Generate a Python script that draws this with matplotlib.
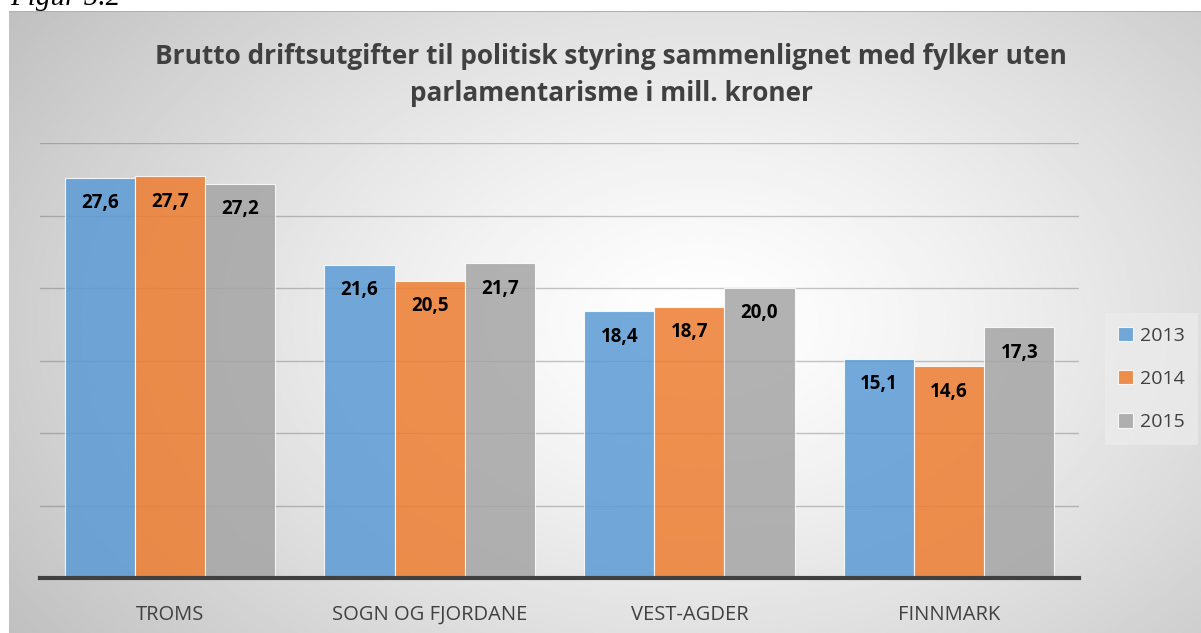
import numpy as np
import matplotlib
matplotlib.use("Agg")
import matplotlib.pyplot as plt

# Data
fylker = ["TROMS", "SOGN OG FJORDANE", "VEST-AGDER", "FINNMARK"]
years = ["2013", "2014", "2015"]
v2013 = [27.6, 21.6, 18.4, 15.1]
v2014 = [27.7, 20.5, 18.7, 14.6]
v2015 = [27.2, 21.7, 20.0, 17.3]
series = [v2013, v2014, v2015]
colors = ["#5b9bd5", "#ed7d31", "#a5a5a5"]

title = ("Brutto driftsutgifter til politisk styring sammenlignet med fylker uten\n"
         "parlamentarisme i mill. kroner")

plt.rcParams["font.family"] = ["Open Sans", "DejaVu Sans"]

W, H = 1201, 633
fig = plt.figure(figsize=(W / 100, H / 100), dpi=100)
fig.patch.set_facecolor("white")

# chart area with a radial gradient background
bg = fig.add_axes([9 / W, 0, 1 - 9 / W, 1 - 11 / H])
bg.set_axis_off()
yy, xx = np.mgrid[0:1:300j, 0:1:600j]
r = np.sqrt(((xx - 0.58) / 0.75) ** 2 + ((yy - 0.5) / 0.95) ** 2)
shade = 1.0 - 0.27 * np.clip(r, 0, 1) ** 1.3
bg.imshow(shade, cmap="gray", vmin=0, vmax=1, aspect="auto",
          extent=[0, 1, 0, 1], origin="lower", zorder=0)
bg.set_xlim(0, 1)
bg.set_ylim(0, 1)
bg.plot([0, 1], [1, 1], color="#b0b0b0", lw=1.5, zorder=1)

ax = fig.add_axes([40 / W, 55 / H, (1079 - 40) / W, (578 - 143) / H])
ax.patch.set_alpha(0)

x = np.arange(len(fylker))
bw = 0.27
for i, (vals, c, yr) in enumerate(zip(series, colors, years)):
    bars = ax.bar(x + (i - 1) * bw, vals, bw, color=c, alpha=0.85,
                  edgecolor="white", linewidth=0.8, label=yr, zorder=3)
    for b, v in zip(bars, vals):
        ax.text(b.get_x() + b.get_width() / 2, v - 1.75, f"{v:.1f}".replace(".", ","),
                ha="center", va="center", fontsize=13.5, fontweight="bold",
                color="black", zorder=4)

ax.set_xlim(-0.5, len(fylker) - 0.5)
ax.set_ylim(0, 30)
ax.set_yticks(range(5, 31, 5))
ax.yaxis.grid(True, color="#595959", alpha=0.35, lw=1)
ax.set_axisbelow(True)
ax.tick_params(axis="y", left=False, labelleft=False)
ax.tick_params(axis="x", bottom=False, labelsize=14.5, labelcolor="#404040", pad=16)
ax.set_xticks(x)
ax.set_xticklabels(fylker)
for s in ["top", "right", "left"]:
    ax.spines[s].set_visible(False)
ax.spines["bottom"].set_color("#404040")
ax.spines["bottom"].set_linewidth(3)
ax.spines["bottom"].set_zorder(5)

fig.text(611 / W, 1 - 75 / H, title, ha="center", va="center", fontsize=18.9,
         fontweight="bold", color="#404040", linespacing=1.45)

# legend with a lighter box
leg = fig.legend(loc="center left", bbox_to_anchor=(1095 / W, 1 - 379 / H),
                 frameon=True, fontsize=14, handlelength=0.75, handleheight=0.75,
                 handletextpad=0.35, labelspacing=1.3, labelcolor="#404040",
                 borderpad=0.7)
leg.get_frame().set_facecolor("#ececec")
leg.get_frame().set_alpha(0.7)
leg.get_frame().set_edgecolor("none")
leg.get_frame().set_boxstyle("square", pad=0)

fig.text(10 / W, 1 - 5 / H, "Figur 5.2", ha="left", va="baseline",
         family="Liberation Serif", style="italic", fontsize=21, color="black")

fig.savefig("out.png", dpi=100)
